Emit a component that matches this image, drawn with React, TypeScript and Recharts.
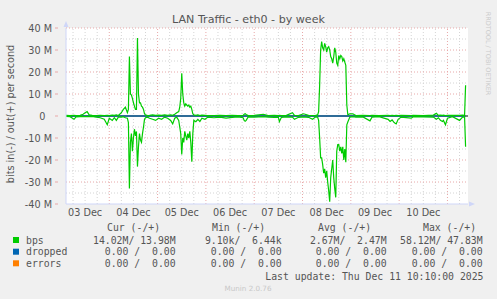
import React from 'react';
import { LineChart, Line, XAxis, YAxis, CartesianGrid, ReferenceLine } from 'recharts';

// hours since 03 Dec 00:00
const hours = [
  2.5, 4.5, 6.5, 7.5, 9.5, 11, 12, 13, 14, 15.5, 17.5, 19.5, 21.5, 23, 24, 25.5, 26.5, 27.5, 28.5, 30,
  31, 32, 33, 33.5, 34, 34.5, 35, 35.5, 36, 36.5, 37, 37.5, 38, 38.5, 39, 39.5, 40, 40.5, 41, 41.5,
  42, 43, 44, 45.5, 47, 48.5, 50, 51.5, 53, 54.5, 55.5, 56.5, 57.5, 58.5, 59, 59.5, 60, 60.5, 61, 61.5,
  62, 62.5, 63, 63.5, 64, 64.5, 65, 65.5, 66, 67, 68, 69, 70, 71.5, 73, 76, 79, 82, 85, 88,
  90.5, 91, 91.5, 92, 93, 96, 100.5, 103, 106, 108, 108.5, 109.5, 112, 115, 116, 118, 120.5, 123, 125, 126.5,
  127.5, 128, 128.5, 129, 129.5, 130, 130.5, 131, 131.5, 132, 132.5, 133, 133.5, 134, 134.5, 135, 135.5, 136, 136.5, 137,
  137.5, 138, 138.5, 139, 139.5, 140, 140.5, 141, 141.5, 142, 142.5, 143.5, 145, 146.5, 150, 153.5, 154.5, 158, 162.5, 163.5,
  164.5, 165.5, 166.5, 167.5, 169, 174, 175, 180, 185, 186.5, 187.5, 188.5, 189.5, 190, 191, 192, 194.5, 198, 199.5, 200.5,
  201,
];

// out (+), Mbit/s
const outM = [
  0.3, 0.2, 0.3, 0.2, 0.3, 0.8, 1.5, 2.0, 0.5, 0.3, 0.2, 0.3, 0.2, 0.3, 0.2, 0.4, 0.3, 0.5, 0.2, 1.5,
  3.0, 4.0, 1.5, 3.0, 27.0, 10.0, 9.5, 8.0, 6.0, 4.5, 3.0, 3.0, 35.5, 10.0, 6.0, 6.0, 4.5, 4.0, 3.0, 1.0,
  0.5, 0.2, 0.3, 0.5, 0.3, 0.4, 0.3, 0.5, 0.3, 0.5, 0.3, 0.8, 1.5, 2.0, 4.0, 8.0, 19.4, 10.0, 6.0, 4.5,
  5.5, 5.0, 4.5, 5.0, 4.0, 4.5, 3.0, 1.0, 0.5, 0.3, 0.5, 0.2, 0.4, 0.3, 0.2, 0.2, 0.3, 0.2, 0.3, 0.2,
  0.3, 0.8, 1.0, 0.7, 0.2, 0.3, 0.8, 0.2, 0.3, 0.2, 0.3, 0.2, 0.3, 1.5, 0.3, 0.2, 1.0, 0.3, 0.2, 0.3,
  0.5, 2.0, 14.0, 30.0, 33.8, 31.0, 30.0, 33.0, 31.5, 29.0, 31.0, 31.5, 30.0, 27.0, 26.0, 24.0, 27.0, 31.0, 29.0, 24.0,
  23.0, 27.5, 26.0, 27.5, 27.0, 25.0, 26.0, 24.5, 23.0, 5.0, 0.5, 1.0, 1.0, 0.2, 0.3, 0.2, 0.3, 0.2, 0.3, 0.2,
  0.3, 0.2, 0.3, 0.2, 0.3, 0.2, 0.3, 0.2, 0.4, 1.2, 0.3, 0.4, 0.3, 0.4, 0.2, 0.3, 0.3, 0.3, 0.4, 0.3,
  13.98,
];

// in (-), Mbit/s, drawn below zero
const inM = [
  0.2, 0.3, 1.5, 0.4, 0.3, 0.2, 0.3, 0.2, 0.3, 0.2, 0.5, 0.8, 1.5, 4.0, 1.0, 2.0, 0.8, 2.0, 0.5, 0.5,
  0.3, 0.8, 1.0, 3.0, 33.0, 12.0, 8.0, 16.0, 10.0, 6.0, 9.0, 7.0, 23.0, 14.0, 8.0, 11.0, 12.0, 8.0, 5.0, 1.5,
  0.8, 0.5, 1.0, 1.5, 2.0, 1.0, 1.5, 0.5, 1.0, 2.0, 3.6, 1.0, 0.5, 2.0, 5.0, 8.0, 17.5, 10.0, 12.0, 7.0,
  9.0, 11.0, 8.0, 10.0, 7.0, 12.0, 20.8, 8.0, 2.0, 2.6, 1.5, 2.5, 1.0, 1.5, 0.5, 0.8, 0.5, 1.0, 0.6, 0.4,
  0.8, 2.0, 2.4, 2.0, 0.4, 0.5, 0.3, 0.5, 0.6, 0.5, 2.6, 0.6, 0.4, 0.5, 1.5, 0.6, 0.4, 0.6, 1.5, 0.4,
  0.5, 2.0, 10.0, 19.0, 19.0, 22.0, 26.0, 24.0, 28.0, 25.0, 30.0, 34.0, 39.0, 28.0, 24.0, 20.0, 28.0, 33.0, 37.0, 16.0,
  13.0, 13.0, 16.0, 14.0, 17.0, 14.0, 20.0, 15.0, 21.0, 4.0, 2.7, 0.5, 0.3, 0.5, 0.4, 2.2, 0.5, 0.3, 1.5, 2.5,
  1.8, 3.0, 3.6, 1.5, 0.5, 1.0, 0.3, 0.4, 0.5, 1.5, 0.8, 2.0, 2.5, 2.0, 4.0, 1.0, 0.3, 2.0, 0.5, 0.4,
  14.02,
];

const dayLabels = ['03 Dec', '04 Dec', '05 Dec', '06 Dec', '07 Dec', '08 Dec', '09 Dec', '10 Dec'];
const dayNoons = [12, 36, 60, 84, 108, 132, 156, 180];
const sixHourMarks = [
  6, 12, 18, 24, 30, 36, 42, 48, 54, 60, 66, 72, 78, 84, 90, 96, 102, 108, 114, 120,
  126, 132, 138, 144, 150, 156, 162, 168, 174, 180, 186, 192, 198,
];
const yTicks = [-40, -30, -20, -10, 0, 10, 20, 30, 40];
const yGrid = [-35, -30, -25, -20, -15, -10, -5, 5, 10, 15, 20, 25, 30, 35, 40];

const legendRows = [
  { name: 'bps', color: '#00cc00', cur: '14.02M/ 13.98M', min: ' 9.10k/  6.44k', avg: ' 2.67M/  2.47M', max: '58.12M/ 47.83M' },
  { name: 'dropped', color: '#0066b3', cur: '  0.00 /  0.00', min: '  0.00 /  0.00', avg: '  0.00 /  0.00', max: '  0.00 /  0.00' },
  { name: 'errors', color: '#ff8000', cur: '  0.00 /  0.00', min: '  0.00 /  0.00', avg: '  0.00 /  0.00', max: '  0.00 /  0.00' },
];

const data = hours.map((h, i) => ({ h, out: outM[i], inn: -inM[i], dropped: 0, errors: 0 }));

const FONT = '"DejaVu Sans", sans-serif';
const MONO = '"DejaVu Sans Mono", monospace';
const TXT = '#555555';
const RED = '#e8a8a8';
const GRAY = '#d4d4d4';

const YTick = (props: any) => {
  const { x, y, payload } = props;
  const v = payload.value;
  const label = v === 0 ? '0' : `${v} M`;
  return (
    <g>
      <line x1={x - 3} x2={x} y1={y} y2={y} stroke={RED} />
      <text x={v === 0 ? x - 12.5 : x - 6} y={y + 3.5} textAnchor="end" fontFamily={FONT} fontSize={9.7} fill={TXT}>
        {label}
      </text>
    </g>
  );
};

// labels sit just under the axis line at y=204
const XTick = (props: any) => {
  const { x, index } = props;
  return (
    <text x={x} y={216.3} textAnchor="middle" fontFamily={FONT} fontSize={9.7} fill={TXT}>
      {dayLabels[index]}
    </text>
  );
};

export default function App() {
  const colX = [93, 199, 304, 400];
  const rowY = [243.5, 255.2, 266.8];
  return (
    <div style={{ position: 'absolute', left: 0, top: 0, width: 497, height: 299, background: '#f0f0f0' }}>
      <LineChart width={497} height={299} data={data} margin={{ top: 28, right: 29, bottom: 75, left: 0 }}>
        <CartesianGrid fill="#ffffff" horizontal={false} vertical={false} />
        {sixHourMarks.map((m) => (
          <ReferenceLine key={`v${m}`} x={m} stroke={m % 24 === 0 ? RED : GRAY} strokeDasharray="1 2" />
        ))}
        {yGrid.map((g) => (
          <ReferenceLine key={`h${g}`} y={g} stroke={g % 10 === 0 ? RED : GRAY} strokeDasharray="1 2" />
        ))}
        <XAxis
          dataKey="h"
          type="number"
          domain={[2.5, 202.2]}
          ticks={dayNoons}
          interval={0}
          height={20}
          tick={<XTick />}
          tickLine={false}
          axisLine={{ stroke: '#cfd6f8' }}
          allowDataOverflow
        />
        <YAxis
          type="number"
          domain={[-40, 40]}
          ticks={yTicks}
          interval={0}
          width={66}
          tick={<YTick />}
          tickLine={false}
          axisLine={{ stroke: '#cfd6f8' }}
          allowDataOverflow
        />
        <ReferenceLine y={0} stroke="#000000" />
        <Line dataKey="errors" stroke="#ff8000" strokeWidth={1} dot={false} isAnimationActive={false} />
        <Line dataKey="dropped" stroke="#0066b3" strokeWidth={1.5} dot={false} isAnimationActive={false} />
        <Line dataKey="inn" stroke="#00cc00" strokeWidth={1.2} dot={false} isAnimationActive={false} />
        <Line dataKey="out" stroke="#00cc00" strokeWidth={1.2} dot={false} isAnimationActive={false} />
      </LineChart>
      <svg width={497} height={299} style={{ position: 'absolute', left: 0, top: 0, pointerEvents: 'none' }}>
        <text x={248.5} y={23} textAnchor="middle" fontFamily={FONT} fontSize={11.1} fill={TXT}>
          LAN Traffic - eth0 - by week
        </text>
        <text
          x={13.5}
          y={114}
          transform="rotate(-90 13.5 114)"
          textAnchor="middle"
          fontFamily={FONT}
          fontSize={9.7}
          fill={TXT}
        >
          bits in(-) / out(+) per second
        </text>
        <text
          x={485.5}
          y={53.5}
          transform="rotate(90 485.5 53.5)"
          textAnchor="middle"
          fontFamily={FONT}
          fontSize={6.5}
          fill="#cccccc"
        >
          RRDTOOL / TOBI OETIKER
        </text>
        <path d="M66 21 L63.5 27 L68.5 27 Z" fill="#cfd6f8" />
        <path d="M475 204 L469 201.5 L469 206.5 Z" fill="#cfd6f8" />
        {['Cur (-/+)', 'Min (-/+)', 'Avg (-/+)', 'Max (-/+)'].map((t, i) => (
          <text key={t} x={[107, 212, 318, 423][i]} y={230.5} fontFamily={MONO} fontSize={9.8} fill={TXT} xmlSpace="preserve" style={{ whiteSpace: 'pre' }}>
            {t}
          </text>
        ))}
        {legendRows.map((r, i) => (
          <g key={r.name}>
            <rect x={13} y={rowY[i] - 6.5} width={6} height={6} fill={r.color} />
            <text x={26} y={rowY[i]} fontFamily={MONO} fontSize={9.8} fill={TXT}>
              {r.name}
            </text>
            {[r.cur, r.min, r.avg, r.max].map((v, j) => (
              <text key={j} x={colX[j]} y={rowY[i]} fontFamily={MONO} fontSize={9.8} fill={TXT} xmlSpace="preserve" style={{ whiteSpace: 'pre' }}>
                {v}
              </text>
            ))}
          </g>
        ))}
        <text x={483.5} y={279.5} textAnchor="end" fontFamily={MONO} fontSize={9.8} fill={TXT}>
          Last update: Thu Dec 11 10:10:00 2025
        </text>
        <text x={248} y={291} textAnchor="middle" fontFamily={FONT} fontSize={7.2} fill="#c8c8c8">
          Munin 2.0.76
        </text>
      </svg>
    </div>
  );
}
